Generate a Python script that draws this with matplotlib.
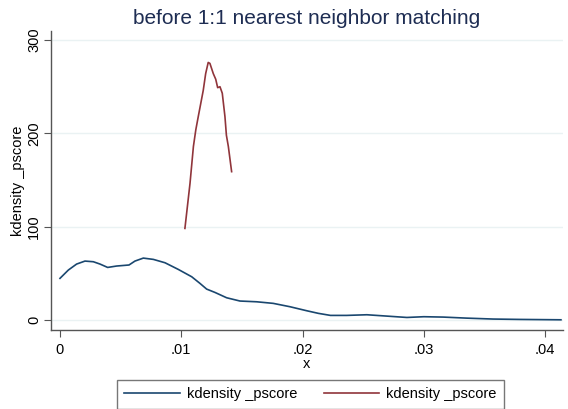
import numpy as np
import matplotlib.pyplot as plt

plt.rcParams['font.family'] = ['Liberation Sans', 'DejaVu Sans']

# kernel density of the propensity score, full sample
x_all = [0.0, 0.00069, 0.00137, 0.00206, 0.00275, 0.0033, 0.00393, 0.00467,
         0.00569, 0.00618, 0.00687, 0.0077, 0.00866, 0.00975, 0.01086, 0.01154,
         0.01209, 0.01278, 0.01374, 0.01484, 0.01621, 0.01758, 0.01896, 0.02034,
         0.0213, 0.0223, 0.02363, 0.0253, 0.0269, 0.0286, 0.0300, 0.0316,
         0.0335, 0.0357, 0.0379, 0.0413]
d_all = [44.7, 53.6, 60, 63.2, 62.5, 60, 56.4, 57.9,
         59, 63.2, 66.4, 65, 61.4, 54.3, 46.4, 39.3,
         33.2, 29.6, 23.9, 20.4, 19.6, 17.9, 14.3, 10,
         7.2, 5, 5, 5.7, 4.3, 2.8, 3.6, 3.2,
         2.1, 1.1, 0.7, 0.3]

# kernel density of the propensity score, treated group
x_trt = [0.0103, 0.01072, 0.0110, 0.0112, 0.0114, 0.01181, 0.01201, 0.01222,
         0.01236, 0.01264, 0.01284, 0.0130, 0.01319, 0.01338, 0.0136, 0.01372,
         0.01388, 0.01415]
d_trt = [98.2, 146.5, 186, 204, 218, 246, 264, 276,
         275, 264, 258, 249, 250, 243, 218, 198,
         186, 159]

xticks = [0, 0.01, 0.02, 0.03, 0.04]
xtick_labels = ["0", ".01", ".02", ".03", ".04"]
yticks = [0, 100, 200, 300]

navy = "#1a476f"
maroon = "#90353b"

fig = plt.figure(figsize=(5.68, 4.09), dpi=100)
ax = fig.add_axes([0.0898, 0.193, 0.9014, 0.731])

ax.plot(x_all, d_all, color=navy, lw=1.2, label="kdensity _pscore")
ax.plot(x_trt, d_trt, color=maroon, lw=1.2, label="kdensity _pscore")

ax.set_xlim(-0.00074, 0.04147)
ax.set_ylim(-10.7, 309.6)
ax.set_xticks(xticks)
ax.set_xticklabels(xtick_labels)
ax.set_yticks(yticks)
ax.set_yticklabels([str(v) for v in yticks], rotation=90, va="center")

ax.grid(axis="y", color="#eaf2f3", lw=1.0)
ax.set_axisbelow(True)
for s in ["top", "right"]:
    ax.spines[s].set_visible(False)
for s in ["left", "bottom"]:
    ax.spines[s].set_color("#555555")
    ax.spines[s].set_linewidth(1.0)
ax.tick_params(direction="out", length=5, color="#555555", labelsize=10.5,
               labelcolor="black")
ax.tick_params(axis="x", pad=4)
ax.tick_params(axis="y", pad=2)

ax.set_xlabel("x", fontsize=10.5, labelpad=0)
ax.set_ylabel("kdensity _pscore", fontsize=10.5, labelpad=2)
ax.set_title("before 1:1 nearest neighbor matching", fontsize=15,
             color="#1e2d53", pad=5)

leg = ax.legend(loc="upper center", bbox_to_anchor=(0.507, -0.167), ncol=2,
                fontsize=10.5, frameon=True, fancybox=False, handlelength=3.8,
                handletextpad=0.5, columnspacing=1.8, borderpad=0.5,
                borderaxespad=0)
leg.get_frame().set_edgecolor("#555555")
leg.get_frame().set_linewidth(1.0)

fig.savefig("out.png", dpi=100)
